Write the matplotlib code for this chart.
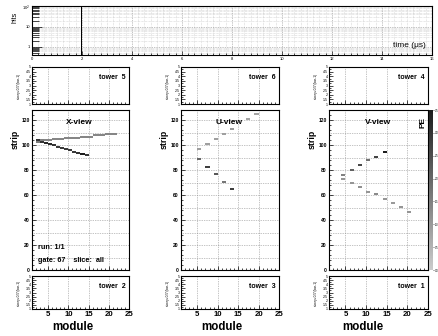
import numpy as np
import matplotlib
matplotlib.use('Agg')
import matplotlib.pyplot as plt
from matplotlib.colors import LinearSegmentedColormap, Normalize
from matplotlib.cm import ScalarMappable
from matplotlib.ticker import MultipleLocator, LogLocator, NullFormatter

plt.rcParams['font.family'] = ['Liberation Sans', 'DejaVu Sans']

W, H = 439, 336

# hit-time histogram
hit_time = [2.0]
hit_count = [95]

# X-view: module bin, strip bin, PE
x_mod = [2, 3, 4, 5, 6, 7, 8, 9, 10, 11, 12, 13, 14, 15, 16, 17, 18, 19, 20, 21,
         2, 3, 4, 5, 6, 7, 8, 9, 10, 11, 12, 13, 14]
x_strip = [102, 103, 103, 103, 104, 104, 104, 105, 105, 105, 105, 106, 106, 106, 107, 107, 107, 108, 108, 108,
           103, 102, 101, 100, 99, 98, 97, 96, 95, 94, 93, 92, 91]
x_pe = [1.6, 1.5, 1.4, 1.4, 1.4, 1.4, 1.4, 1.4, 1.4, 1.4, 1.4, 1.4, 1.4, 1.4, 1.4, 1.4, 1.4, 1.4, 1.4, 1.4,
        3.0, 3.0, 3.2, 3.2, 3.0, 2.9, 2.9, 2.9, 2.9, 2.9, 3.0, 3.5, 3.0]

# U-view
u_mod = [5, 7, 9, 11, 13, 17, 19, 5, 7, 9, 11, 13]
u_strip = [96, 100, 104, 108, 112, 120, 124, 88, 82, 76, 70, 64]
u_pe = [0.9, 0.9, 0.9, 0.9, 1.0, 0.8, 0.8, 2.0, 2.8, 2.3, 1.7, 2.8]

# V-view
v_mod = [4, 6, 8, 10, 12, 14, 4, 6, 8, 10, 12, 14, 16, 18, 20]
v_strip = [75, 79, 83, 87, 90, 94, 72, 69, 66, 62, 60, 56, 53, 50, 46]
v_pe = [1.5, 2.1, 2.6, 1.8, 2.7, 3.5, 1.1, 1.1, 1.2, 1.1, 1.3, 1.1, 1.0, 1.1, 1.1]

views = ['X-view', 'U-view', 'V-view']
hits = [(x_mod, x_strip, x_pe), (u_mod, u_strip, u_pe), (v_mod, v_strip, v_pe)]
towers_top = [5, 6, 4]
towers_bot = [2, 3, 1]

cmap = LinearSegmentedColormap.from_list('pe', ['#cccccc', '#1c1c1c'])
norm = Normalize(0, 3.5)

fig = plt.figure(figsize=(W / 100, H / 100), dpi=100, facecolor='white')


def ax_at(x0, y0, x1, y1):
    return fig.add_axes([x0 / W, 1 - y1 / H, (x1 - x0) / W, (y1 - y0) / H])


grid_kw = dict(color='#888888', linestyle=(0, (1, 1.5)), linewidth=0.5)


def frame(ax):
    for s in ax.spines.values():
        s.set_linewidth(0.8)
    ax.tick_params(which='both', direction='in', width=0.5)
    ax.tick_params(which='major', length=3)
    ax.tick_params(which='minor', length=1.5)


# time panel
ax = ax_at(32, 6, 432, 55)
frame(ax)
ax.bar(hit_time, hit_count, width=0.04, color='black')
ax.set_yscale('log')
ax.set_xlim(0, 16)
ax.set_ylim(0.4, 105)
ax.xaxis.set_major_locator(MultipleLocator(2))
ax.xaxis.set_minor_locator(MultipleLocator(0.25))
ax.set_yticks([1, 10, 100], ['1', '10', '10$^2$'])
ax.yaxis.set_minor_locator(LogLocator(subs=range(2, 10)))
ax.yaxis.set_minor_formatter(NullFormatter())
ax.tick_params(labelsize=3, pad=1.5)
ax.tick_params(axis='y', which='major', length=7)
ax.tick_params(axis='y', which='minor', length=5)
ax.grid(True, which='major', **grid_kw)
ax.grid(True, which='minor', color='#bbbbbb', linestyle=(0, (1, 1.5)), linewidth=0.4)
ax.set_axisbelow(True)
ax.text(0.985, 0.2, 'time (\u03bcs)', transform=ax.transAxes, ha='right', va='center', fontsize=6)
fig.text(15.5 / W, 1 - 17 / H, 'hits', rotation=90, ha='center', va='center', fontsize=5)

cols = [(32, 129), (181, 279), (329, 428)]
label_x = [15.5, 164, 312]
module_x = [73, 222, 363]

for i, (c0, c1) in enumerate(cols):
    # tower panels above and below the view
    for (y0, y1, tw, ty, last) in [(67, 104, towers_top[i], 0.71, False),
                                   (276, 309, towers_bot[i], 0.67, True)]:
        a = ax_at(c0, y0, c1, y1)
        frame(a)
        a.set_xlim(1, 25)
        a.set_ylim(1, 5)
        a.xaxis.set_major_locator(MultipleLocator(5))
        a.xaxis.set_minor_locator(MultipleLocator(1))
        a.yaxis.set_major_locator(MultipleLocator(0.5))
        a.yaxis.set_minor_locator(MultipleLocator(0.25))
        a.tick_params(axis='y', labelsize=2.6, pad=1)
        a.set_yticks(np.arange(1, 5.01, 0.5), ['1', '1.5', '2', '2.5', '3', '3.5', '4', '4.5', '5'])
        a.grid(True, axis='x', which='major', **grid_kw)
        a.text(0.83, ty, 'tower  %d' % tw, transform=a.transAxes, ha='center', va='center',
               fontsize=5, fontweight='bold')
        if last:
            a.tick_params(axis='x', labelsize=5.6, pad=1.5)
            for t in a.get_xticklabels():
                t.set_fontweight('bold')
        else:
            a.tick_params(axis='x', labelbottom=False)
        fig.text((c0 - 13) / W, 1 - (y0 + y1) / 2 / H, 'storey+0.5*(bar-1)', rotation=90,
                 ha='center', va='center', fontsize=2.3)

    # main view panel
    a = ax_at(c0, 110, c1, 270)
    frame(a)
    mods, strips, pe = hits[i]
    a.bar(mods, 1.6, width=1, bottom=strips, align='edge', color=cmap(norm(np.array(pe))), linewidth=0)
    a.set_xlim(1, 25)
    a.set_ylim(0, 128)
    a.xaxis.set_major_locator(MultipleLocator(5))
    a.xaxis.set_minor_locator(MultipleLocator(1))
    a.yaxis.set_major_locator(MultipleLocator(20))
    a.yaxis.set_minor_locator(MultipleLocator(4))
    a.tick_params(axis='x', labelbottom=False)
    a.tick_params(axis='y', labelsize=3.6, pad=1.5)
    for t in a.get_yticklabels():
        t.set_fontweight('bold')
    a.grid(True, axis='x', which='major', **grid_kw)
    for yy in range(10, 128, 10):
        a.axhline(yy, **grid_kw, zorder=0)
    a.set_axisbelow(True)
    a.text(0.49, 0.925, views[i], transform=a.transAxes, ha='center', va='center',
           fontsize=6, fontweight='bold')
    fig.text(label_x[i] / W, 1 - 139 / H, 'strip', rotation=90, ha='center', va='center',
             fontsize=6.3, fontweight='bold')
    fig.text(module_x[i] / W, 1 - 327 / H, 'module', ha='center', va='center',
             fontsize=8.3, fontweight='bold')
    if i == 0:
        a.text(0.062, 0.142, 'run: 1/1', transform=a.transAxes, ha='left', va='center',
               fontsize=5.2, fontweight='bold')
        a.text(0.062, 0.0625, 'gate: 67    slice:  all', transform=a.transAxes, ha='left',
               va='center', fontsize=5.2, fontweight='bold')
    if i == 2:
        a.text(0.95, 0.925, 'PE', transform=a.transAxes, rotation=90, ha='center', va='center',
               fontsize=6, fontweight='bold')

# colour bar (narrow, so its tiny labels stay inside the picture)
cax = ax_at(429, 110, 433, 270)
cb = fig.colorbar(ScalarMappable(norm=norm, cmap=cmap), cax=cax)
cb.set_ticks(np.arange(0, 3.51, 0.5))
cb.outline.set_linewidth(0)
cax.tick_params(labelsize=1.9, length=1, width=0.4, pad=0.4)

fig.savefig('out.png', dpi=100, facecolor='white')
